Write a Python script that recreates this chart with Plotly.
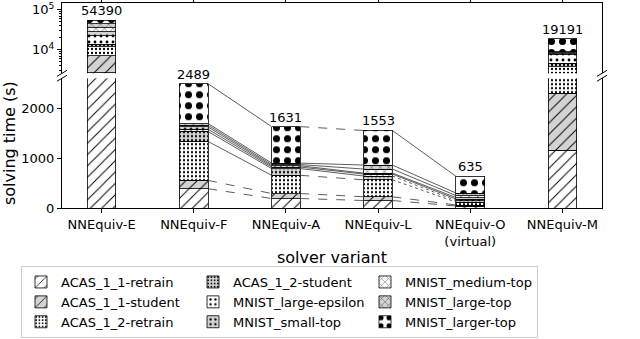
import numpy as np
import plotly.graph_objects as go
from plotly.subplots import make_subplots

# 求解器（横轴）
solvers = ["NNEquiv-E", "NNEquiv-F", "NNEquiv-A", "NNEquiv-L", "NNEquiv-O<br>(virtual)", "NNEquiv-M"]

# 各基准的求解时间 (s)，顺序与 solvers 相同
acas_1_1_retrain = [2700, 387, 190, 150, 40, 1160]
acas_1_1_student = [4400, 166, 100, 75, 20, 1140]
acas_1_2_retrain = [5000, 780, 365, 340, 60, 1523]
acas_1_2_student = [1800, 200, 135, 75, 30, 827]
mnist_large_epsilon = [8500, 45, 30, 40, 30, 2850]
mnist_small_top = [6300, 45, 25, 20, 30, 500]
mnist_medium_top = [7300, 35, 25, 80, 40, 500]
mnist_large_top = [9000, 35, 30, 80, 50, 570]
mnist_larger_top = [9390, 796, 731, 693, 335, 10121]

benchmarks = ["ACAS_1_1-retrain", "ACAS_1_1-student", "ACAS_1_2-retrain",
              "ACAS_1_2-student", "MNIST_large-epsilon", "MNIST_small-top",
              "MNIST_medium-top", "MNIST_large-top", "MNIST_larger-top"]
series = [acas_1_1_retrain, acas_1_1_student, acas_1_2_retrain, acas_1_2_student,
          mnist_large_epsilon, mnist_small_top, mnist_medium_top, mnist_large_top,
          mnist_larger_top]

# 填充样式: (底色, 图案, 图案大小, 实心度)
GRAY = "#d3d3d3"
styles = [
    ("white", "/", 8, 0.12),
    (GRAY, "/", 8, 0.12),
    ("white", ".", 4, 0.25),
    (GRAY, ".", 4, 0.25),
    ("white", ".", 6, 0.18),
    (GRAY, ".", 6, 0.18),
    ("white", "x", 6, 0.12),
    (GRAY, "x", 6, 0.12),
    ("white", ".", 11, 0.32),
]

BREAK = 2600
BAR_W = 0.31
x = np.arange(len(solvers))

TOP_DOM = [0.657, 1]
LOW_DOM = [0, 0.633]

fig = make_subplots(rows=2, cols=1, shared_xaxes=True)

for k, (name, vals) in enumerate(zip(benchmarks, series)):
    bg, shape, size, sol = styles[k]
    rank = (k % 3) * 3 + k // 3
    for row in (1, 2):
        fig.add_trace(
            go.Bar(x=x, y=vals, name=name, width=BAR_W,
                   legendgroup=name, showlegend=(row == 2), legendrank=rank,
                   marker=dict(color=bg, line=dict(color="black", width=0.8),
                               pattern=dict(shape=shape, fgcolor="black", bgcolor=bg,
                                            fgopacity=1, fillmode="overlay",
                                            size=size, solidity=sol))),
            row=row, col=1
        )

# 相邻求解器之间的连线
cum = np.cumsum(np.array(series), axis=0)
dash_styles = {
    1: ["dash", "dash", "solid", "solid", "solid", "solid", "solid", "solid", "solid"],
    2: ["dash", "dash", "dash", "solid", "solid", "solid", "solid", "solid", "dash"],
    3: ["dash", "dash", "dot", "dot", "solid", "solid", "solid", "solid", "solid"],
}
for i, dashes in dash_styles.items():
    for k in range(len(benchmarks)):
        fig.add_trace(
            go.Scatter(x=[x[i] + BAR_W / 2, x[i + 1] - BAR_W / 2],
                       y=[cum[k, i], cum[k, i + 1]], mode="lines",
                       line=dict(color="#333333", width=0.8, dash=dashes[k]),
                       showlegend=False, hoverinfo="skip"),
            row=2, col=1
        )

# 总时间标注
totals = cum[-1]
for i, t in enumerate(totals):
    if t > BREAK:
        fig.add_annotation(x=x[i], y=np.log10(t), xref="x", yref="y", text=str(int(t)),
                           showarrow=False, yanchor="bottom", yshift=0)
    else:
        fig.add_annotation(x=x[i], y=t, xref="x2", yref="y2", text=str(int(t)),
                           showarrow=False, yanchor="bottom", yshift=0)

# 断轴标记
dx, dy = 0.0093, 0.0146
for xp in (0, 1):
    for yp in (TOP_DOM[0], LOW_DOM[1]):
        fig.add_shape(type="line", xref="paper", yref="paper",
                      x0=xp - dx, y0=yp - dy, x1=xp + dx, y1=yp + dy,
                      line=dict(color="black", width=1))

axis_common = dict(showline=True, linecolor="black", linewidth=1, showgrid=False,
                   zeroline=False, ticks="outside", ticklen=4, tickcolor="black")

fig.update_layout(
    width=640, height=339,
    margin=dict(l=62, r=38, t=3, b=131, autoexpand=False),
    barmode="stack",
    plot_bgcolor="white", paper_bgcolor="white",
    font=dict(family="DejaVu Sans", size=13, color="black"),
    xaxis=dict(**axis_common, side="top", range=[-0.43, 5.43], tickvals=x,
               showticklabels=False),
    xaxis2=dict(**axis_common, range=[-0.43, 5.43], tickvals=x, ticktext=solvers,
                title=dict(text="solver variant", standoff=4)),
    yaxis=dict(**axis_common, type="log", mirror=True, domain=TOP_DOM,
               range=[np.log10(BREAK), 5.17], tickvals=[1e4, 1e5],
               ticktext=["10<sup>4</sup>", "10<sup>5</sup>"],
               minor=dict(ticks="outside", ticklen=2, tickcolor="black",
                          tickvals=[3000, 4000, 5000, 6000, 7000, 8000, 9000,
                                    20000, 30000, 40000, 50000, 60000, 70000,
                                    80000, 90000])),
    yaxis2=dict(**axis_common, mirror=True, domain=LOW_DOM, range=[0, BREAK],
                tickvals=[0, 1000, 2000], title=dict(text="solving time (s)", standoff=1)),
    legend=dict(orientation="h", x=-0.0759, y=-0.283, xanchor="left", yanchor="top",
                bordercolor="#cccccc", borderwidth=1, entrywidth=127,
                font=dict(size=13), tracegroupgap=0),
)

# 去掉页面默认的 body 边距和工具栏
fig.write_html("out.html", config={"displayModeBar": False},
               post_script="document.body.style.margin='0';")
